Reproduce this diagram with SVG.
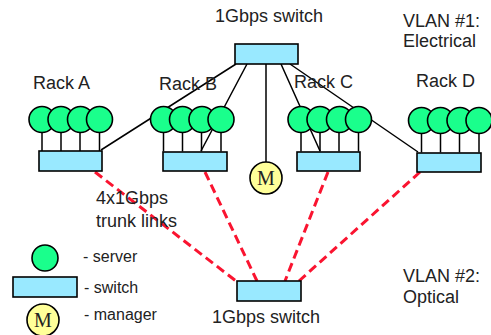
<svg xmlns="http://www.w3.org/2000/svg" width="491" height="335" viewBox="0 0 491 335">
<style>
text{font-family:"Liberation Sans",Arial,sans-serif;font-size:18px;fill:#222}
.k{font-size:16px}
.s{fill:#1aff8c;stroke:#000;stroke-width:1.6}
.w{fill:#99e9ff;stroke:#000;stroke-width:1.6}
.m{fill:#ffff99;stroke:#000;stroke-width:1.6}
.l{stroke:#000;stroke-width:1.5;fill:none}
.d{stroke:#fa1430;stroke-width:3;stroke-dasharray:9 5;fill:none}
.mt{font-family:"Liberation Serif",serif;font-size:20px;text-anchor:middle;fill:#222}
</style>
<defs>
<g id="rack">
<path class="l" d="M0 13V32M19 13V32M38 13V32M57.500 13V32"/>
<circle class="s" cx="0" cy="0" r="13"/><circle class="s" cx="19" cy="0" r="13"/><circle class="s" cx="38.500" cy="0" r="13"/><circle class="s" cx="57.500" cy="0" r="13"/>
</g>
</defs>
<g id="connectors">
<path class="l" d="M101 150L236 64M201 151L247 64M266 64V163M281 64L320 151M290 64L418 152"/>
<path class="d" d="M95 172L236 281M205 172L257 281M328 172L285 281M420 172L299 281"/>
</g>
<g id="rack-a"><use href="#rack" x="42" y="119.500"/><rect class="w" x="39" y="151" width="63" height="20"/><text x="33" y="89">Rack A</text></g>
<g id="rack-b"><use href="#rack" x="163.500" y="119.500"/><rect class="w" x="163" y="152" width="64" height="19"/><text x="159" y="90">Rack B</text></g>
<g id="rack-c"><use href="#rack" x="301" y="119.500"/><rect class="w" x="297" y="152" width="63" height="19"/><text x="294" y="88">Rack C</text></g>
<g id="rack-d"><use href="#rack" x="421.500" y="120.500"/><rect class="w" x="417" y="153" width="64" height="19"/><text x="416" y="87">Rack D</text></g>
<g id="top-switch"><rect class="w" x="235" y="44" width="63" height="20"/><text x="215" y="22">1Gbps switch</text></g>
<g id="manager"><circle class="m" cx="266" cy="178" r="16"/><text class="mt" x="266" y="185">M</text></g>
<g id="bottom-switch"><rect class="w" x="237" y="281" width="64" height="20"/><text x="212" y="323">1Gbps switch</text></g>
<g id="legend-server"><circle class="s" cx="45" cy="258" r="13"/><text class="k" x="83" y="262">- server</text></g>
<g id="legend-switch"><rect class="w" x="13" y="277" width="64" height="20"/><text class="k" x="84" y="293">- switch</text></g>
<g id="legend-manager"><circle class="m" cx="43" cy="320" r="16"/><text class="mt" x="43" y="327">M</text><text class="k" x="84" y="320">- manager</text></g>
<g id="labels">
<text x="96" y="204">4x1Gbps</text><text x="96" y="227">trunk links</text>
<text x="403" y="27">VLAN #1:</text><text x="403" y="47">Electrical</text>
<text x="403" y="282">VLAN #2:</text><text x="403" y="303">Optical</text>
</g>
</svg>
